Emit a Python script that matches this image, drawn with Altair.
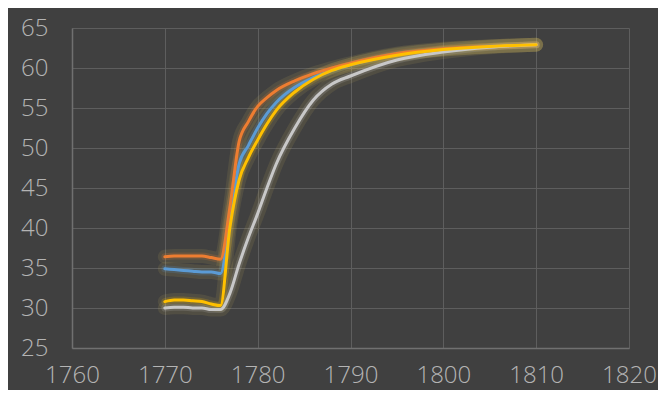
import altair as alt
import pandas as pd

years = [1770, 1771, 1772, 1773, 1774, 1775, 1776, 1777, 1778, 1779, 1780, 1781, 1782,
         1784, 1786, 1788, 1790, 1795, 1800, 1805, 1810]
orange = [36.4, 36.5, 36.5, 36.5, 36.5, 36.3, 36.1, 42.5, 50.8, 53.3, 55.2, 56.3, 57.2,
          58.4, 59.3, 60.0, 60.6, 61.8, 62.4, 62.7, 62.9]
blue = [34.9, 34.8, 34.7, 34.6, 34.5, 34.5, 34.3, 41.0, 48.0, 50.3, 52.5, 54.3, 55.7,
        57.6, 58.8, 59.7, 60.4, 61.7, 62.3, 62.7, 62.9]
gray = [30.0, 30.1, 30.1, 30.0, 30.0, 29.8, 29.8, 31.8, 35.5, 38.8, 41.8, 45.0, 48.0,
        52.5, 56.0, 58.0, 59.0, 61.0, 62.0, 62.6, 62.9]
yellow = [30.8, 31.0, 31.0, 30.9, 30.8, 30.5, 30.3, 40.0, 46.0, 48.8, 51.0, 53.0, 54.7,
          57.0, 58.6, 59.7, 60.4, 61.6, 62.3, 62.7, 62.9]

series_names = ["Blue", "Orange", "Gray", "Yellow"]
series_values = [blue, orange, gray, yellow]
series_colors = ["#5B9BD5", "#ED7D31", "#C8C8C8", "#FFC000"]

x_ticks = [1760, 1770, 1780, 1790, 1800, 1810, 1820]
y_ticks = [25, 30, 35, 40, 45, 50, 55, 60, 65]

rows = []
for order, (name, vals) in enumerate(zip(series_names, series_values)):
    for yr, v in zip(years, vals):
        rows.append({"year": yr, "value": v, "series": name, "order": order})
df = pd.DataFrame(rows)

x_enc = alt.X("year:Q", scale=alt.Scale(domain=[1760, 1820], nice=False),
              axis=alt.Axis(values=x_ticks, format="d", title=None, labelPadding=15, ticks=False,
                            labelFlush=False, labelOverlap=False))
y_enc = alt.Y("value:Q", scale=alt.Scale(domain=[25, 65], nice=False, zero=False),
              axis=alt.Axis(values=y_ticks, title=None, labelPadding=24, ticks=False,
                            labelFlush=False, labelOverlap=False))
color_enc = alt.Color("series:N", scale=alt.Scale(domain=series_names, range=series_colors), legend=None)

base = alt.Chart(df)
glow = base.mark_line(interpolate="monotone", strokeWidth=14, opacity=0.10, strokeCap="round",
                      color="#E8D060").encode(x=x_enc, y=y_enc, detail="series:N")
glow2 = base.mark_line(interpolate="monotone", strokeWidth=7, opacity=0.18, strokeCap="round").encode(
    x=x_enc, y=y_enc, color=color_enc, detail="series:N")
lines = base.mark_line(interpolate="monotone", strokeWidth=3, strokeCap="round").encode(
    x=x_enc, y=y_enc, color=color_enc, order="order:Q")

chart = alt.layer(glow, glow2, lines).properties(
    width=557, height=320,
    autosize=alt.AutoSizeParams(type="none"),
    padding={"left": 64, "top": 20, "right": 29, "bottom": 42},
    background="#404040",
).configure_view(stroke=None).configure_axis(
    grid=True, gridColor="#5E5E5E", gridWidth=1,
    domainColor="#707070", domainWidth=1.5,
    labelColor="#B4B4B4", labelFont="Open Sans", labelFontSize=24, labelFontWeight=300,
)

chart.save("out.html", embed_options={"renderer": "svg", "actions": False})
